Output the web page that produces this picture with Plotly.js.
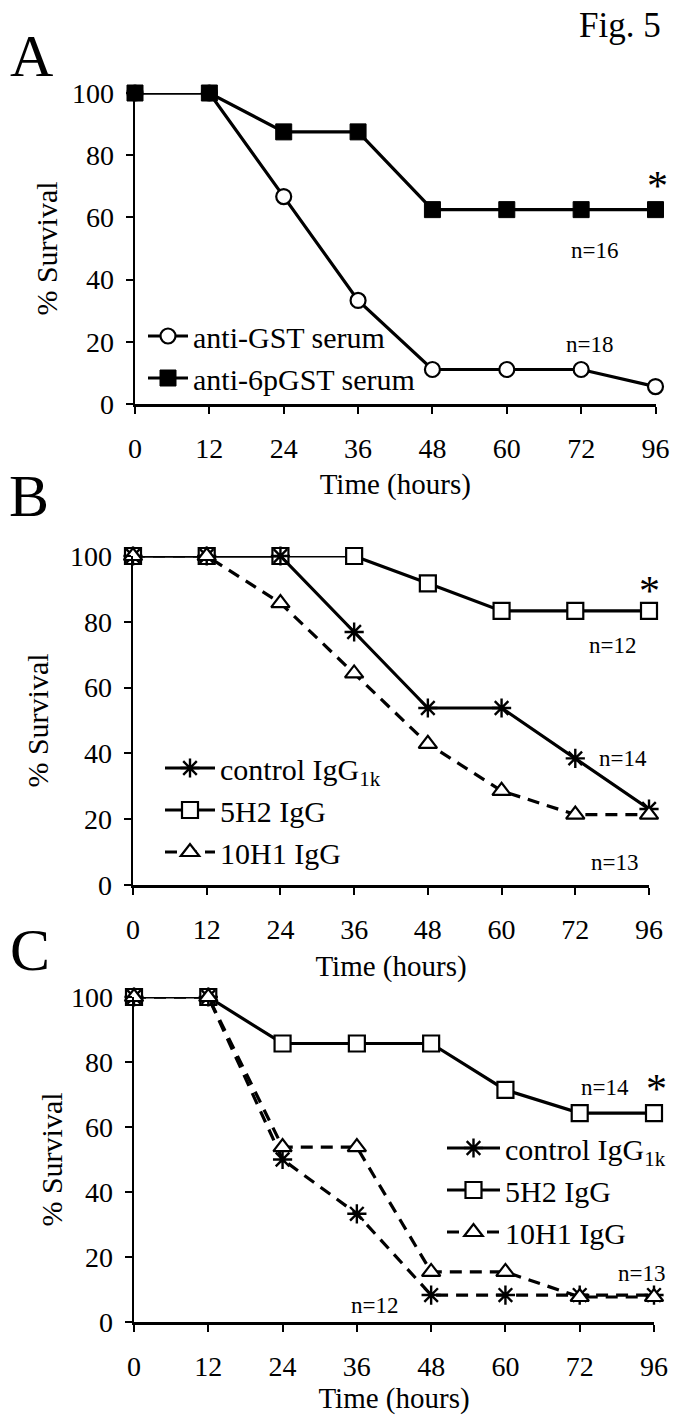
<!DOCTYPE html>
<html>
<head>
<meta charset="utf-8">
<script src="https://cdn.plot.ly/plotly-3.0.1.min.js"></script>
<style>html,body{margin:0;padding:0;background:#fff;}#chart{width:696px;height:1425px;}</style>
</head>
<body>
<div id="chart"></div>
<script>
// ---- data ----
const hours = ['0','12','24','36','48','60','72','96'];
const yTicks = [0,20,40,60,80,100];
// Panel A
const aNames = ['anti-GST serum','anti-6pGST serum'];
const aGST   = [100,100,66.7,33.3,11.1,11.1,11.1,5.6];
const a6pGST = [100,100,87.5,87.5,62.5,62.5,62.5,62.5];
// Panel B
const bcNames = ['control IgG<sub>1k</sub>','5H2 IgG','10H1 IgG'];
const bControl = [100,100,100,76.9,53.8,53.8,38.5,23.1];
const b5H2     = [100,100,100,100,91.7,83.3,83.3,83.3];
const b10H1    = [100,100,85.7,64.3,42.9,28.6,21.4,21.4];
// Panel C
const cControl = [100,100,50,33.3,8.3,8.3,8.3,8.3];
const c5H2     = [100,100,85.7,85.7,85.7,71.4,64.3,64.3];
const c10H1    = [100,100,53.8,53.8,15.4,15.4,7.7,7.7];
// annotations text
const panelLetters = ['A','B','C'];
const nLabelsA = ['n=16','n=18'];
const nLabelsB = ['n=12','n=14','n=13'];
const nLabelsC = ['n=14','n=13','n=12'];

// ---- helpers (layout only) ----
const W = 696, H = 1425;
const px = v => v / W;
const py = v => 1 - v / H;
const FONT = 'Liberation Serif, Times New Roman, serif';
const LW = 3.2;
const DASH = '12px,8px';

function mk(sym, size, fill, lw) {
  return {symbol: sym, size: size, color: fill, line: {color: '#000', width: lw}};
}
function tr(y, name, xa, ya, leg, marker, dash, extra) {
  return Object.assign({
    type: 'scatter', mode: 'lines+markers', x: hours, y: y, name: name,
    xaxis: xa, yaxis: ya, legend: leg, cliponaxis: false,
    line: {color: '#000', width: LW, dash: dash || 'solid'},
    marker: marker
  }, extra || {});
}
const mCircle = mk('circle', 15, '#fff', 2.2);
const mFilled = mk('square', 16, '#000', 1);
const mSquare = mk('square', 16, '#fff', 2.2);
const mAster  = mk('asterisk-open', 16, '#000', 2.4);
const mTri    = mk('triangle-up', 16, '#fff', 2.2);

const traces = [
  tr(aGST, aNames[0], 'x', 'y', 'legend', mCircle),
  tr(a6pGST, aNames[1], 'x', 'y', 'legend', mFilled),

  tr(b5H2, bcNames[1], 'x2', 'y2', 'legend2', mSquare, 'solid', {legendrank: 2}),
  tr(bControl, bcNames[0], 'x2', 'y2', 'legend2', mAster, 'solid', {legendrank: 1}),
  tr(b10H1, bcNames[2], 'x2', 'y2', 'legend2', mTri, DASH, {legendrank: 3}),

  tr(c5H2, bcNames[1], 'x3', 'y3', 'legend3', mSquare, 'solid', {legendrank: 2}),
  tr(cControl, bcNames[0], 'x3', 'y3', 'legend3', mAster, DASH, {showlegend: false}),
  tr(c10H1, bcNames[2], 'x3', 'y3', 'legend3', mTri, DASH, {legendrank: 3}),
  // legend entry for control in C (solid line sample as in the original legend)
  {type:'scatter', mode:'lines+markers', x:[null], y:[null], name: bcNames[0], xaxis:'x3', yaxis:'y3', legend:'legend3', legendrank: 1,
   line:{color:'#000', width: LW}, marker: mAster}
];

function xax(dom, anchor, standoff) {
  return {
    domain: dom, anchor: anchor, type: 'category', categoryarray: hours, range: [0, 7],
    showline: true, linecolor: '#000', linewidth: 2.5, showgrid: false, zeroline: false,
    ticks: 'outside', ticklen: 7, tickwidth: 2, tickcolor: '#000', ticklabelstandoff: 11,
    tickfont: {family: FONT, size: 28, color: '#000'},
    title: {text: 'Time (hours)', font: {family: FONT, size: 29, color: '#000'}, standoff: standoff},
    fixedrange: true
  };
}
function yax(dom, anchor, standoff) {
  return {
    domain: dom, anchor: anchor, range: [0, 100], tickvals: yTicks,
    showline: true, linecolor: '#000', linewidth: 2.5, showgrid: false, zeroline: false,
    ticks: 'outside', ticklen: 7, tickwidth: 2, tickcolor: '#000', ticklabelstandoff: 6,
    tickfont: {family: FONT, size: 28, color: '#000'},
    title: {text: '% Survival', font: {family: FONT, size: 30, color: '#000'}, standoff: standoff},
    fixedrange: true
  };
}

function legendAt(x, yTop, iw) {
  return {x: px(x), y: py(yTop), xanchor: 'left', yanchor: 'top', bgcolor: 'rgba(0,0,0,0)',
          font: {family: FONT, size: 30, color: '#000'}, itemwidth: iw, tracegroupgap: 0,
          traceorder: 'normal'};
}

function ann(text, x, y, size) {
  return {text: text, xref: 'paper', yref: 'paper', x: px(x), y: py(y),
    xanchor: 'center', yanchor: 'middle', showarrow: false,
    font: {family: FONT, size: size, color: '#000'}};
}

const layout = {
  width: W, height: H, margin: {l: 0, r: 0, t: 0, b: 0},
  paper_bgcolor: '#fff', plot_bgcolor: '#fff', font: {family: FONT, color: '#000'},
  xaxis:  xax([px(135), px(655.5)], 'y', 11),
  yaxis:  yax([py(404), py(93)], 'x', 6),
  xaxis2: xax([px(133), px(649)], 'y2', 12),
  yaxis2: yax([py(885), py(556)], 'x2', 13),
  xaxis3: xax([px(134), px(654)], 'y3', 6),
  yaxis3: yax([py(1322), py(997)], 'x3', 0),
  legend:  legendAt(143, 310, 40),
  legend2: legendAt(160, 742, 50),
  legend3: legendAt(442, 1122, 53),
  annotations: [
    ann('Fig. 5', 620, 25, 35),
    ann(panelLetters[0], 31, 56, 60),
    ann(panelLetters[1], 29, 496, 60),
    ann(panelLetters[2], 30, 950, 60),
    ann('*', 657, 186, 42),
    ann(nLabelsA[0], 594, 250, 23),
    ann(nLabelsA[1], 589, 344, 23),
    ann('*', 649, 591, 42),
    ann(nLabelsB[0], 612, 645, 23),
    ann(nLabelsB[1], 623, 758, 23),
    ann(nLabelsB[2], 614, 862, 23),
    ann(nLabelsC[0], 605, 1087, 23),
    ann('*', 656, 1089, 42),
    ann(nLabelsC[1], 641, 1273, 23),
    ann(nLabelsC[2], 374, 1305, 23)
  ]
};

Plotly.newPlot('chart', traces, layout, {displayModeBar: false, staticPlot: true});
</script>
</body>
</html>
